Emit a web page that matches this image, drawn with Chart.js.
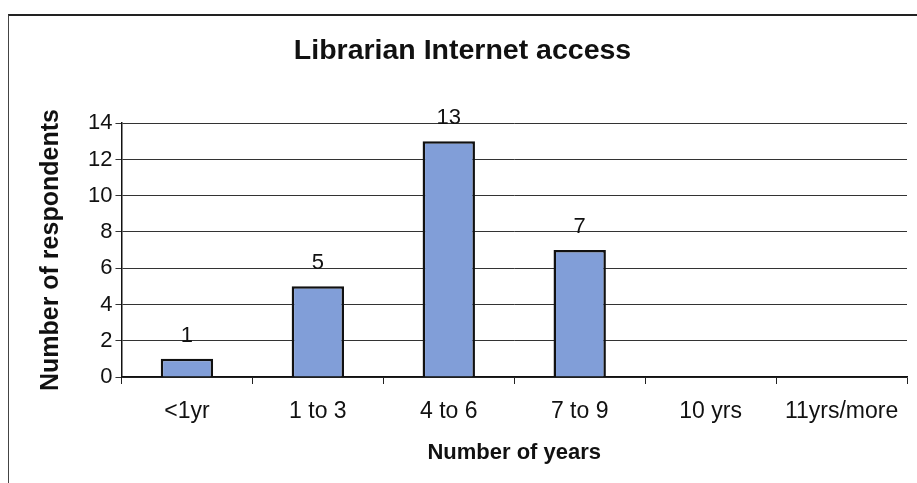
<!DOCTYPE html>
<html>
<head>
<meta charset="utf-8">
<script src="https://cdn.jsdelivr.net/npm/chart.js@4"></script>
<style>
  html, body { margin: 0; padding: 0; background: #fff; }
  #wrap { position: absolute; left: 0; top: 0; width: 917px; height: 483px; }
  #frame { position: absolute; left: 8px; top: 14px; width: 909px; height: 469px;
           border-top: 2px solid #222; border-left: 1px solid #444; }
  canvas { position: absolute; left: 0; top: 0; }
</style>
</head>
<body>
<div id="wrap">
  <div id="frame"></div>
  <canvas id="chart" width="917" height="483"></canvas>
</div>
<script>
// categories and counts
const categories = ['<1yr', '1 to 3', '4 to 6', '7 to 9', '10 yrs', '11yrs/more'];
const respondents = [1, 5, 13, 7, 0, 0];
const yTicks = [0, 2, 4, 6, 8, 10, 12, 14];

const FONT = 'Arial, "Liberation Sans", sans-serif';

// value labels over the bars (zero bars get none)
const barLabels = {
  id: 'barLabels',
  afterDatasetsDraw(chart){
    const c = chart.ctx;
    const meta = chart.getDatasetMeta(0);
    c.save();
    c.font = '22px ' + FONT;
    c.fillStyle = '#111';
    c.textAlign = 'center';
    c.textBaseline = 'bottom';
    meta.data.forEach((bar, i) => {
      const v = respondents[i];
      if(!v) return;
      c.fillText(String(v), bar.x, bar.y - 12);
    });
    c.restore();
  }
};

const ctx = document.getElementById('chart').getContext('2d');
new Chart(ctx, {
  type: 'bar',
  data: {
    labels: categories,
    datasets: [{
      data: respondents,
      backgroundColor: '#819ed8',
      borderColor: '#111',
      borderWidth: 2.5,
      categoryPercentage: 1,
      barPercentage: 0.4
    }]
  },
  options: {
    responsive: false,
    animation: false,
    layout: {padding: {left: 18, right: 10, top: 14, bottom: 17}},
    plugins: {
      legend: {display: false},
      tooltip: {enabled: false},
      title: {
        display: true,
        text: 'Librarian Internet access',
        color: '#111',
        font: {family: FONT, size: 28.5, weight: 'bold'},
        padding: {top: 20, bottom: 55}
      }
    },
    scales: {
      x: {
        grid: {display: true, drawOnChartArea: false, offset: true, color: '#222', tickLength: 7, lineWidth: 1},
        border: {color: '#111', width: 1.5},
        ticks: {color: '#111', font: {family: FONT, size: 23}, padding: 14, maxRotation: 0},
        title: {display: true, text: 'Number of years', color: '#111',
                font: {family: FONT, size: 22, weight: 'bold'}, padding: {top: 0, bottom: 0}}
      },
      y: {
        min: 0, max: 14,
        afterBuildTicks: axis => { axis.ticks = yTicks.map(v => ({value: v})); },
        grid: {color: '#333', lineWidth: 1, tickLength: 6},
        border: {color: '#111', width: 1.5},
        ticks: {color: '#111', font: {family: FONT, size: 22}, padding: 3},
        title: {display: true, text: 'Number of respondents', color: '#111',
                font: {family: FONT, size: 25, weight: 'bold'}, padding: {top: 18, bottom: 19}}
      }
    }
  },
  plugins: [barLabels]
});
</script>
</body>
</html>
